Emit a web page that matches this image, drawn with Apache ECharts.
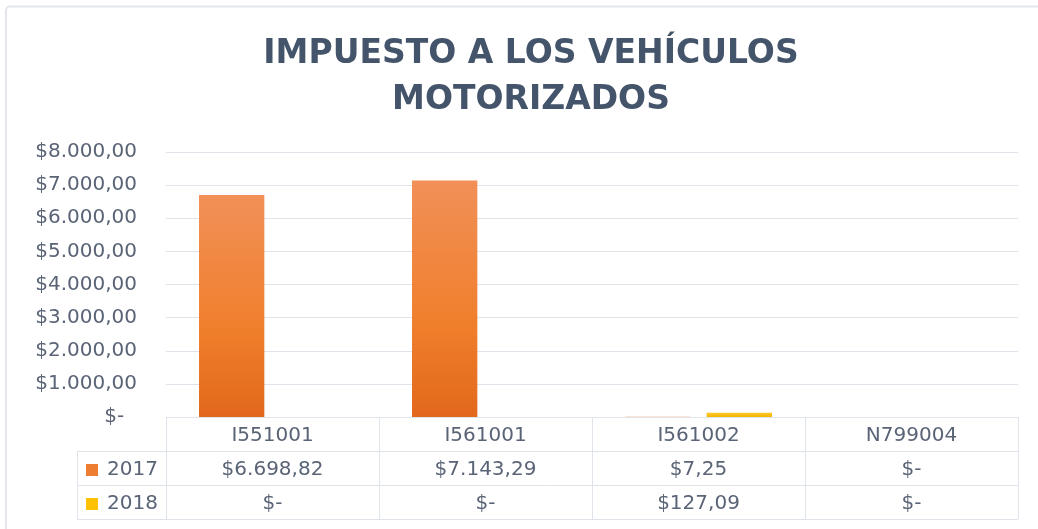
<!DOCTYPE html>
<html>
<head>
<meta charset="utf-8">
<script src="https://cdn.jsdelivr.net/npm/echarts@6/dist/echarts.min.js"></script>
<style>
  html, body { margin: 0; padding: 0; background: #fff; }
  #main { width: 1038px; height: 529px; }
</style>
</head>
<body>
<div id="main"></div>
<script>
// datos
const categorias = ['I551001', 'I561001', 'I561002', 'N799004']
const anios = ['2017', '2018']
const valores2017 = [6698.82, 7143.29, 7.25, 0]
const valores2018 = [0, 0, 127.09, 0]
const colores = ['#ed7d31', '#ffc000']

// formato contable: $6.698,82 y "$-" para cero
const money = function (v, dec) {
  if (!v) return '$-'
  const p = v.toFixed(dec).split('.')
  const ent = p[0].replace(/\B(?=(\d{3})+(?!\d))/g, '.')
  return '$' + ent + (p[1] ? ',' + p[1] : '')
}

const FONT = 'DejaVu Sans'
const FS = 20
const TXT = '#5a6476'
const LINE = '#dfe3ea'
// posiciones de la tabla (px)
const gl = 166, gr = 1018, gb = 417, fila = 34, legX = 77

const chartBox = echarts.init(document.getElementById('main'))

// lineas de la tabla de datos
const tabla = []
const hline = (x1, x2, y) => tabla.push({ type: 'line', shape: { x1: x1, y1: y, x2: x2, y2: y }, style: { stroke: LINE, lineWidth: 1 } })
const vline = (x, y1, y2) => tabla.push({ type: 'line', shape: { x1: x, y1: y1, x2: x, y2: y2 }, style: { stroke: LINE, lineWidth: 1 } })
hline(gl, gr, gb + 0.5)
hline(legX, gr, gb + fila + 0.5)
hline(legX, gr, gb + fila * 2 + 0.5)
hline(legX, gr, gb + fila * 3 + 0.5)
vline(legX + 0.5, gb + fila, gb + fila * 3)
const ancho = (gr - gl) / categorias.length
for (let i = 0; i <= categorias.length; i++) {
  vline(Math.round(gl + ancho * i) + 0.5, gb, gb + fila * 3)
}
// borde del area del grafico
tabla.push({
  type: 'rect',
  shape: { x: 6, y: 6.5, width: 1200, height: 1000, r: 4 },
  style: { fill: null, stroke: '#e3e6ee', lineWidth: 2 }
})

const filaEje = function (datos, off) {
  return {
    type: 'category',
    data: categorias,
    position: 'bottom',
    offset: off,
    axisLine: { show: false },
    axisTick: { show: false },
    axisLabel: {
      margin: 9,
      fontFamily: FONT,
      fontSize: FS,
      color: TXT,
      formatter: function (v, i) { return money(datos[i], 2) }
    }
  }
}

// una leyenda por fila de la tabla
const leyenda = function (i) {
  return {
    orient: 'vertical',
    left: 86,
    top: gb + fila * (i + 1) + 9,
    padding: 0,
    itemWidth: 12,
    itemHeight: 12,
    icon: 'rect',
    textStyle: { fontFamily: FONT, fontSize: FS, lineHeight: 20, color: TXT, padding: [0, 0, 0, 4] },
    data: [{ name: anios[i], itemStyle: { color: colores[i] } }]
  }
}

const option = {
  backgroundColor: '#fff',
  animation: false,
  title: {
    text: 'IMPUESTO A LOS VEHÍCULOS\nMOTORIZADOS',
    left: 526,
    textAlign: 'center',
    top: 26,
    textStyle: {
      fontFamily: FONT,
      fontWeight: 'bold',
      fontSize: 33,
      lineHeight: 46,
      color: '#44546a'
    }
  },
  legend: [leyenda(0), leyenda(1)],
  grid: {
    left: gl,
    right: 1038 - gr,
    top: 152,
    bottom: 529 - gb
  },
  xAxis: [
    {
      type: 'category',
      data: categorias,
      axisLine: { show: false },
      axisTick: { show: false },
      axisLabel: { margin: 9, fontFamily: FONT, fontSize: FS, color: TXT }
    },
    filaEje(valores2017, fila),
    filaEje(valores2018, fila * 2)
  ],
  yAxis: {
    type: 'value',
    min: 0,
    max: 8000,
    interval: 1000,
    axisLine: { show: false },
    axisTick: { show: false },
    splitLine: { lineStyle: { color: LINE, width: 1 } },
    axisLabel: {
      margin: 29,
      fontFamily: FONT,
      fontSize: FS,
      color: TXT,
      formatter: function (v) { return v === 0 ? '$-  ' : money(v, 2) }
    }
  },
  series: [
    {
      name: anios[0],
      type: 'bar',
      data: valores2017,
      barGap: '25%',
      barCategoryGap: '31%',
      itemStyle: {
        color: new echarts.graphic.LinearGradient(0, 0, 0, 1, [
          { offset: 0, color: '#f19058' },
          { offset: 0.6, color: '#f07f2c' },
          { offset: 1, color: '#e2681b' }
        ])
      }
    },
    {
      name: anios[1],
      type: 'bar',
      data: valores2018,
      itemStyle: {
        color: new echarts.graphic.LinearGradient(0, 0, 0, 1, [
          { offset: 0, color: '#ffc72a' },
          { offset: 1, color: '#f2b600' }
        ])
      }
    }
  ],
  graphic: tabla
}
chartBox.setOption(option)
window.addEventListener('resize', function () {
  chartBox.resize()
})
</script>
</body>
</html>
